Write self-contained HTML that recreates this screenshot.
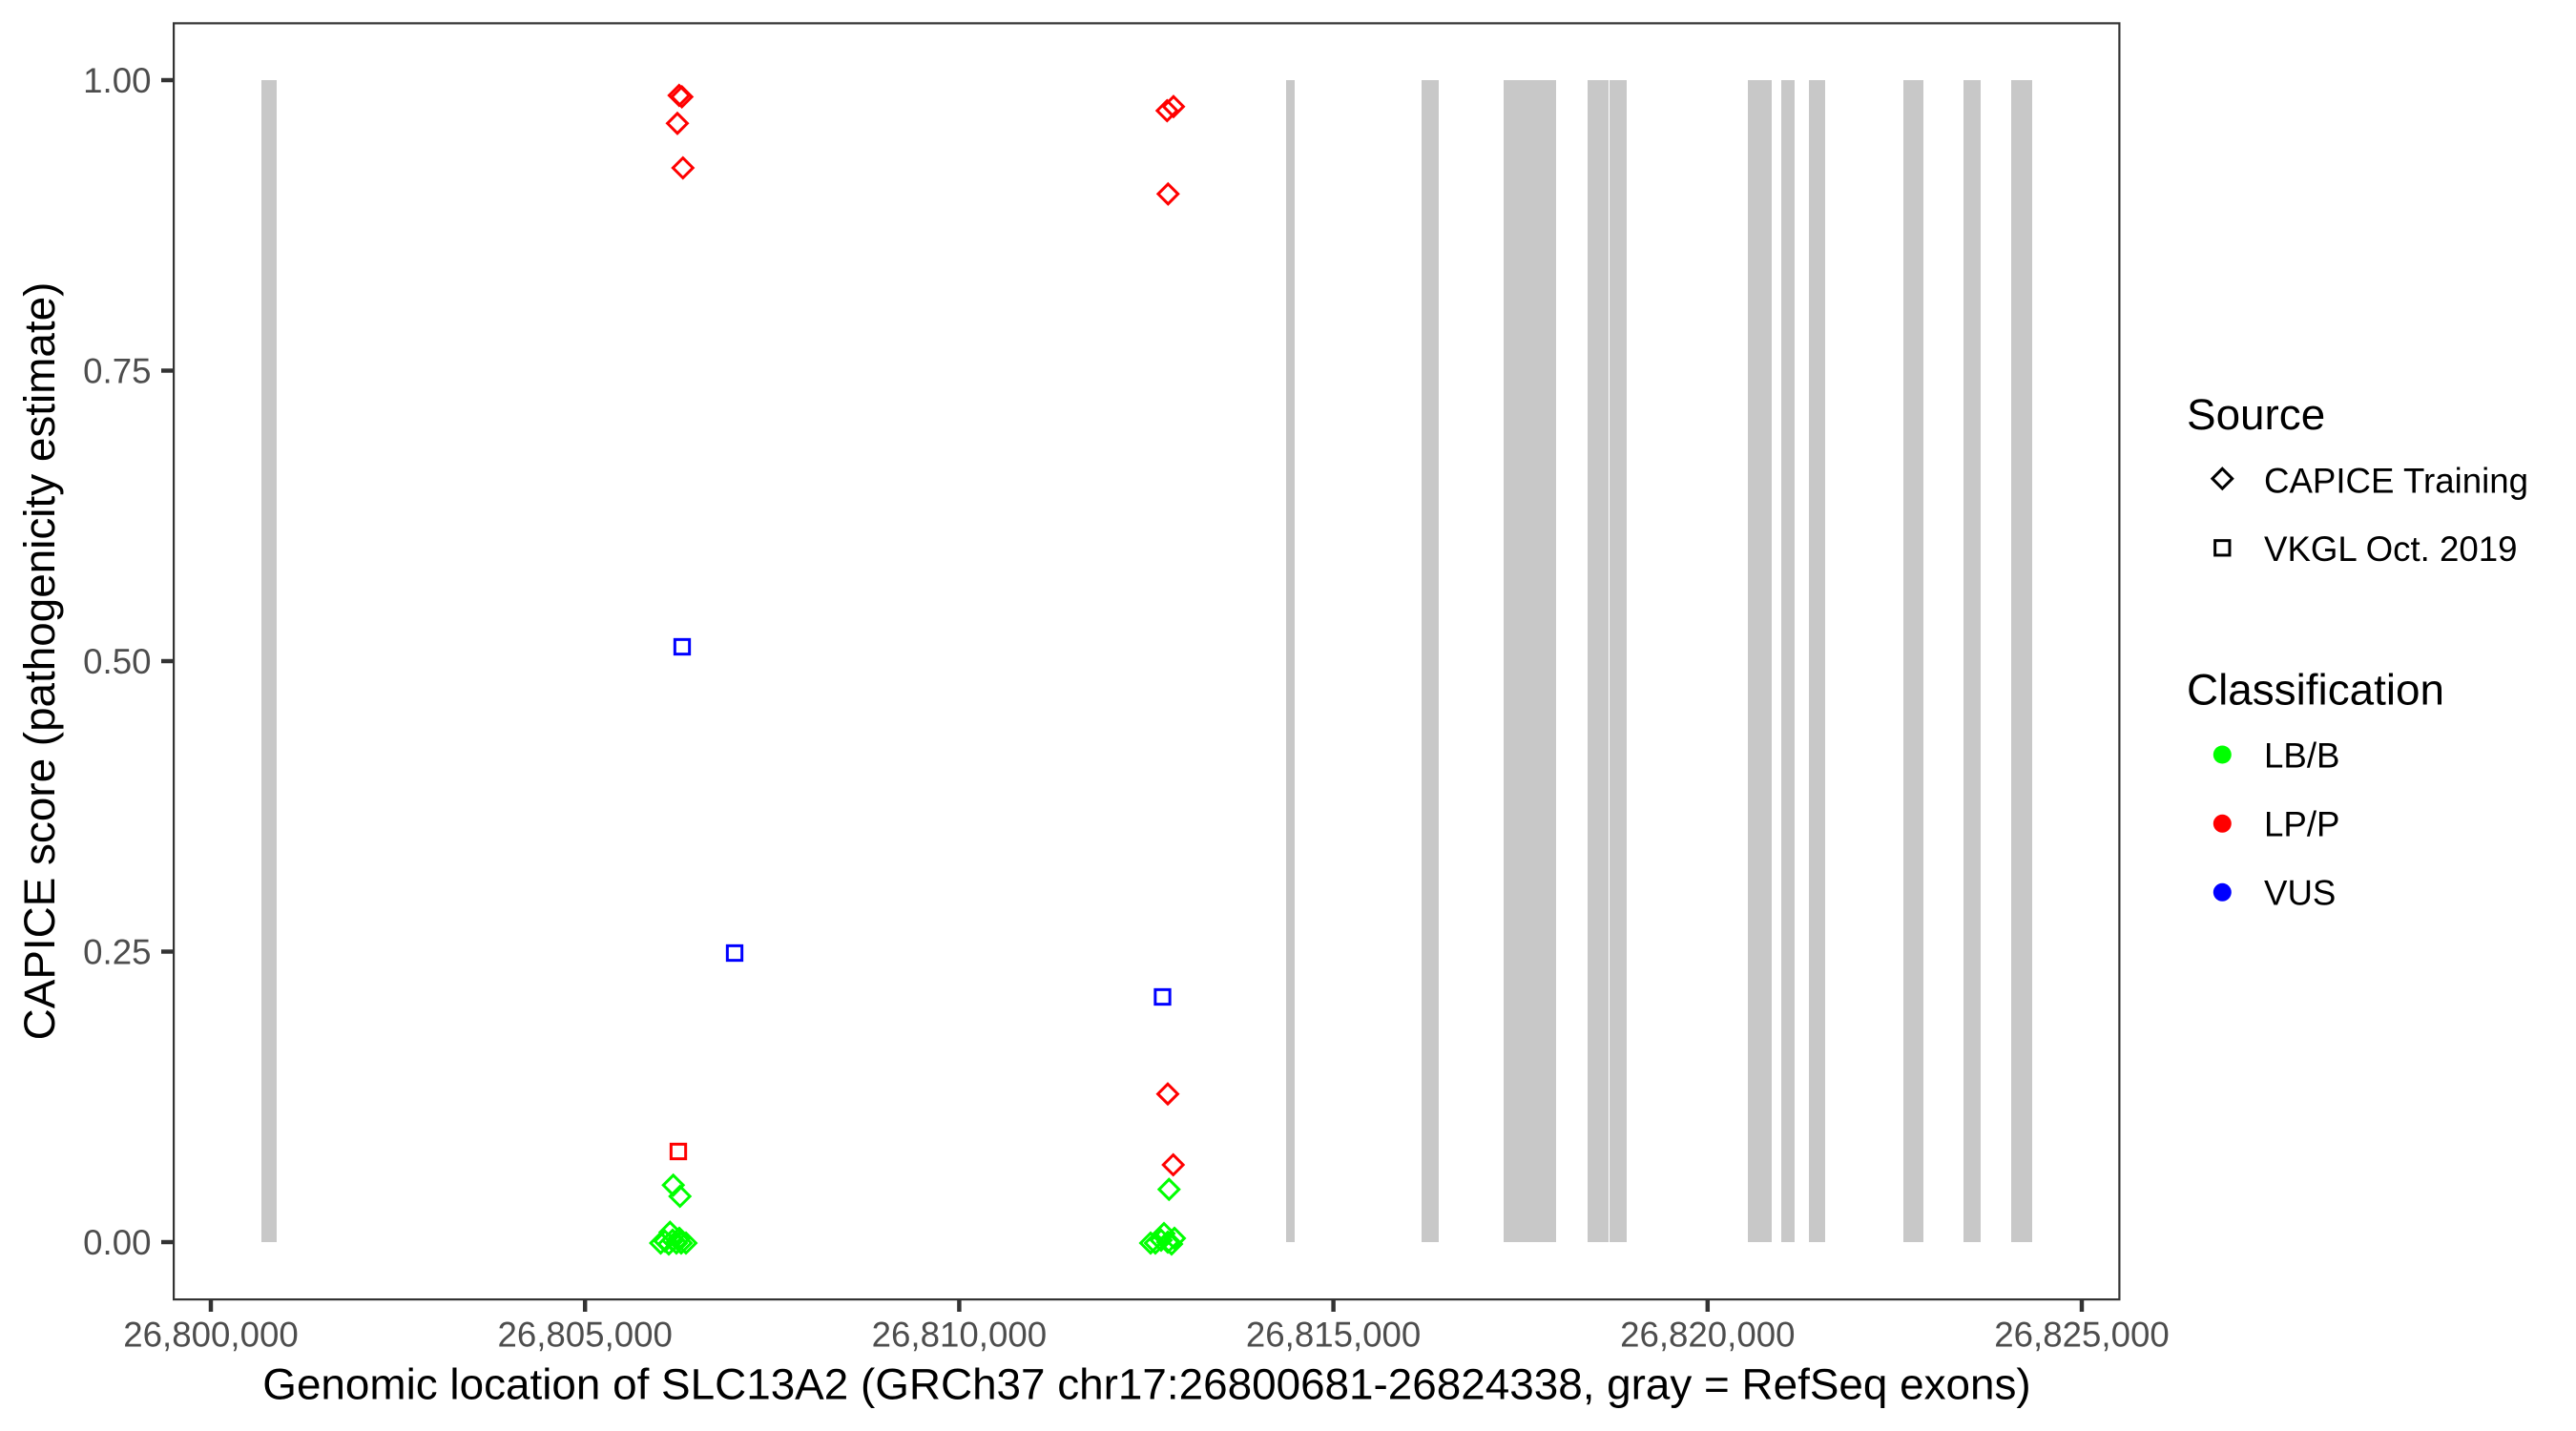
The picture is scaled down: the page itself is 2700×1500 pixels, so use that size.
<!DOCTYPE html>
<html>
<head>
<meta charset="utf-8">
<style>
html,body{margin:0;padding:0;background:#fff;}
svg{display:block;}
text{font-family:"Liberation Sans",Arial,sans-serif;}
</style>
</head>
<body>
<svg width="2700" height="1500" viewBox="0 0 2700 1500" xmlns="http://www.w3.org/2000/svg">
<defs>
<path id="dm" d="M0,-10.4 L10.4,0 L0,10.4 L-10.4,0 Z" fill="none" stroke-width="3" stroke-linejoin="miter"/>
<rect id="sq" x="-7.65" y="-7.65" width="15.3" height="15.3" fill="none" stroke-width="3"/>
</defs>
<rect x="0" y="0" width="2700" height="1500" fill="#fff"/>

<!-- exon bars -->
<g fill="#C8C8C8">
<rect x="274" y="84" width="16" height="1218"/>
<rect x="1348" y="84" width="9" height="1218"/>
<rect x="1490" y="84" width="18" height="1218"/>
<rect x="1576" y="84" width="55" height="1218"/>
<rect x="1664" y="84" width="22" height="1218"/>
<rect x="1687" y="84" width="18" height="1218"/>
<rect x="1832" y="84" width="25" height="1218"/>
<rect x="1867" y="84" width="14" height="1218"/>
<rect x="1896" y="84" width="17" height="1218"/>
<rect x="1995" y="84" width="21" height="1218"/>
<rect x="2058" y="84" width="18" height="1218"/>
<rect x="2108" y="84" width="22" height="1218"/>
</g>

<!-- points cluster 1 -->
<g stroke="#FF0000">
<use href="#dm" x="711.8" y="100"/>
<use href="#dm" x="714.7" y="101.5"/>
<use href="#dm" x="710" y="129.3"/>
<use href="#dm" x="715.8" y="176"/>
<use href="#sq" x="711" y="1207"/>
</g>
<g stroke="#0000FF">
<use href="#sq" x="715" y="678"/>
<use href="#sq" x="770" y="999"/>
</g>
<g stroke="#00FF00">
<use href="#dm" x="705.7" y="1242.3"/>
<use href="#dm" x="712.7" y="1254"/>
<use href="#dm" x="692.5" y="1303"/>
<use href="#dm" x="697" y="1301"/>
<use href="#dm" x="701" y="1304"/>
<use href="#dm" x="702.3" y="1291.7"/>
<use href="#dm" x="705" y="1300"/>
<use href="#dm" x="709" y="1303"/>
<use href="#dm" x="712" y="1298"/>
<use href="#dm" x="714" y="1303"/>
<use href="#dm" x="719" y="1303"/>
</g>

<!-- points cluster 2 -->
<g stroke="#FF0000">
<use href="#dm" x="1223.3" y="116"/>
<use href="#dm" x="1230" y="111.7"/>
<use href="#dm" x="1224.3" y="203.3"/>
<use href="#dm" x="1224" y="1146.7"/>
<use href="#dm" x="1229.7" y="1221"/>
</g>
<g stroke="#0000FF">
<use href="#sq" x="1218.5" y="1045"/>
</g>
<g stroke="#00FF00">
<use href="#dm" x="1225.3" y="1246.7"/>
<use href="#dm" x="1206" y="1303"/>
<use href="#dm" x="1211" y="1303"/>
<use href="#dm" x="1217" y="1300"/>
<use href="#dm" x="1220" y="1293"/>
<use href="#dm" x="1224" y="1302"/>
<use href="#dm" x="1228" y="1304"/>
<use href="#dm" x="1231" y="1298"/>
</g>

<!-- panel border -->
<rect x="182.1" y="24.4" width="2039.3" height="1337.7" fill="none" stroke="#333333" stroke-width="2.2"/>

<!-- y ticks -->
<g stroke="#333333" stroke-width="4.45">
<line x1="169" y1="84" x2="181" y2="84"/>
<line x1="169" y1="388.5" x2="181" y2="388.5"/>
<line x1="169" y1="693" x2="181" y2="693"/>
<line x1="169" y1="997.5" x2="181" y2="997.5"/>
<line x1="169" y1="1302" x2="181" y2="1302"/>
</g>
<g fill="#4D4D4D" font-size="36.67" text-anchor="end">
<text x="158.5" y="97.1">1.00</text>
<text x="158.5" y="401.6">0.75</text>
<text x="158.5" y="706.1">0.50</text>
<text x="158.5" y="1010.6">0.25</text>
<text x="158.5" y="1315.1">0.00</text>
</g>

<!-- x ticks -->
<g stroke="#333333" stroke-width="4.45">
<line x1="221" y1="1363" x2="221" y2="1375"/>
<line x1="613.2" y1="1363" x2="613.2" y2="1375"/>
<line x1="1005.4" y1="1363" x2="1005.4" y2="1375"/>
<line x1="1397.6" y1="1363" x2="1397.6" y2="1375"/>
<line x1="1789.8" y1="1363" x2="1789.8" y2="1375"/>
<line x1="2182" y1="1363" x2="2182" y2="1375"/>
</g>
<g fill="#4D4D4D" font-size="36.67" text-anchor="middle">
<text x="221" y="1411.5">26,800,000</text>
<text x="613.2" y="1411.5">26,805,000</text>
<text x="1005.4" y="1411.5">26,810,000</text>
<text x="1397.6" y="1411.5">26,815,000</text>
<text x="1789.8" y="1411.5">26,820,000</text>
<text x="2182" y="1411.5">26,825,000</text>
</g>

<!-- axis titles -->
<text x="1202" y="1466.7" font-size="45.83" fill="#000" text-anchor="middle">Genomic location of SLC13A2 (GRCh37 chr17:26800681-26824338, gray = RefSeq exons)</text>
<text transform="translate(57,693) rotate(-90)" x="0" y="0" font-size="45.83" fill="#000" text-anchor="middle">CAPICE score (pathogenicity estimate)</text>

<!-- legend -->
<text x="2292" y="450" font-size="45.83" fill="#000">Source</text>
<use href="#dm" x="2329.3" y="501.7" stroke="#000"/>
<use href="#sq" x="2329.3" y="574.3" stroke="#000"/>
<g font-size="36.67" fill="#000">
<text x="2373" y="516.4">CAPICE Training</text>
<text x="2373" y="588.2">VKGL Oct. 2019</text>
</g>
<text x="2292" y="738.3" font-size="45.83" fill="#000">Classification</text>
<circle cx="2329.3" cy="791" r="9.5" fill="#00FF00"/>
<circle cx="2329.3" cy="863.3" r="9.5" fill="#FF0000"/>
<circle cx="2329.3" cy="935.3" r="9.5" fill="#0000FF"/>
<g font-size="36.67" fill="#000">
<text x="2373" y="804.5">LB/B</text>
<text x="2373" y="876.5">LP/P</text>
<text x="2373" y="948.3">VUS</text>
</g>
</svg>
</body>
</html>
